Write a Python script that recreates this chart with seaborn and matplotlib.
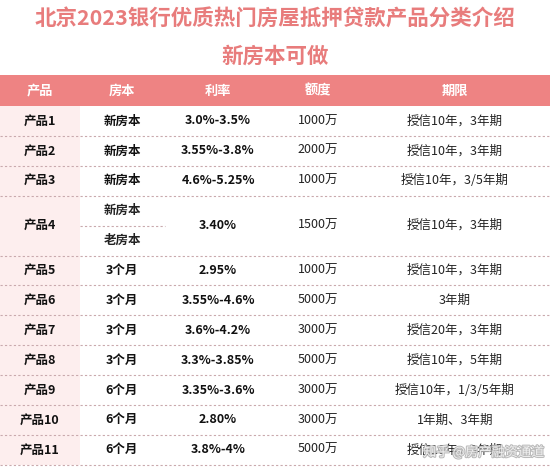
import matplotlib
matplotlib.use("Agg")
import matplotlib.pyplot as plt
import matplotlib.patheffects as pe
import seaborn as sns
import numpy as np

sns.set_theme(style="white")
plt.rcParams['font.family'] = ['Noto Sans CJK SC', 'DejaVu Sans']

title1 = "北京2023银行优质热门房屋抵押贷款产品分类介绍"
title2 = "新房本可做"
headers = ["产品", "房本", "利率", "额度", "期限"]
products = ["产品1", "产品2", "产品3", "产品4", "产品5", "产品6", "产品7", "产品8", "产品9", "产品10", "产品11"]
housing = ["新房本", "新房本", "新房本", "新房本\n老房本", "3个月", "3个月", "3个月", "3个月", "6个月", "6个月", "6个月"]
rates = ["3.0%-3.5%", "3.55%-3.8%", "4.6%-5.25%", "3.40%", "2.95%", "3.55%-4.6%", "3.6%-4.2%", "3.3%-3.85%", "3.35%-3.6%", "2.80%", "3.8%-4%"]
amounts = ["1000万", "2000万", "1000万", "1500万", "1000万", "5000万", "3000万", "5000万", "3000万", "3000万", "5000万"]
terms = ["授信10年，3年期", "授信10年，3年期", "授信10年，3/5年期", "授信10年，3年期", "授信10年，3年期", "3年期",
         "授信20年，3年期", "授信10年，5年期", "授信10年，1/3/5年期", "1年期、3年期", "授信10年，3年期"]
row_units = [1, 1, 1, 2, 1, 1, 1, 1, 1, 1, 1]

W, H = 550, 470
fig = plt.figure(figsize=(5.5, 4.7), dpi=100)
ax = fig.add_axes([0, 0, 1, 1])
ax.set_xlim(0, W); ax.set_ylim(H, 0); ax.axis("off")

pink = "#ee8383"
col_x = [40, 122, 218, 318, 455]

ax.text(W/2, 19, title1, ha="center", va="center", fontsize=15.5, fontweight="bold", color="#e87c7c")
ax.text(W/2, 56, title2, ha="center", va="center", fontsize=15.5, fontweight="bold", color="#e87c7c")

hy0, hy1 = 75, 106
ax.add_patch(plt.Rectangle((0, hy0), W, hy1 - hy0, color=pink, lw=0))
for x, h in zip(col_x, headers):
    ax.text(x, (hy0 + hy1) / 2, h, ha="center", va="center", fontsize=9.5, fontweight="bold", color="white")

unit = 29.9
tops = hy1 + np.concatenate([[0], np.cumsum(row_units)]) * unit
ax.add_patch(plt.Rectangle((0, hy1), 80, tops[-1] - hy1, color="#fdeeee", lw=0))

for i in range(len(products)):
    t, b = tops[i], tops[i + 1]
    c = (t + b) / 2
    ax.text(col_x[0], c, products[i], ha="center", va="center", fontsize=9, fontweight="bold", color="#111")
    if row_units[i] == 2:
        parts = housing[i].split("\n")
        ax.text(col_x[1], t + unit / 2, parts[0], ha="center", va="center", fontsize=9, fontweight="bold", color="#222")
        ax.text(col_x[1], t + 1.5 * unit, parts[1], ha="center", va="center", fontsize=9, fontweight="bold", color="#222")
        ax.plot([80, 165], [c, c], ls=(0, (2, 2)), color="#c9a9ad", lw=0.8)
    else:
        ax.text(col_x[1], c, housing[i], ha="center", va="center", fontsize=9, fontweight="bold", color="#111")
    ax.text(col_x[2], c, rates[i], ha="center", va="center", fontsize=9, fontweight="bold", color="#111")
    ax.text(col_x[3], c, amounts[i], ha="center", va="center", fontsize=9, color="#222")
    ax.text(col_x[4], c, terms[i], ha="center", va="center", fontsize=9, color="#222")
    ax.plot([0, W], [b, b], ls=(0, (2, 2)), color="#c9a9ad", lw=0.8)

ax.text(484, 452, "知乎 @房产融资通道", ha="center", va="center", fontsize=9.5, color="white", alpha=0.8,
        path_effects=[pe.withStroke(linewidth=1.5, foreground="#aaa")])

fig.savefig("out.png", dpi=100)
